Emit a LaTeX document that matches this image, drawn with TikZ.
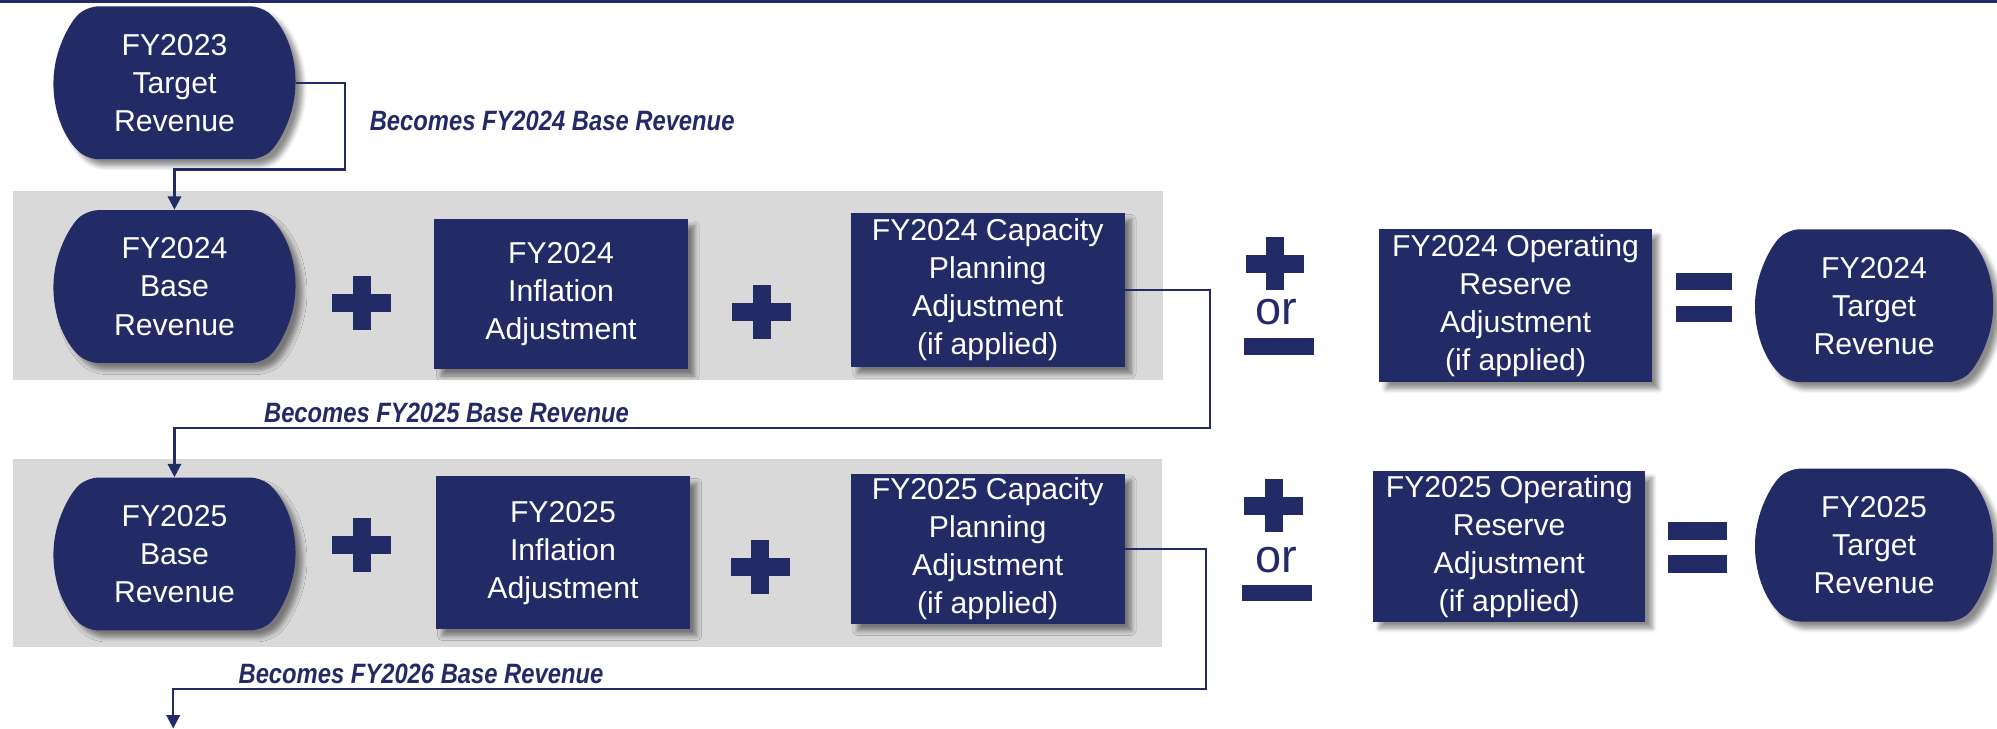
\documentclass[tikz,border=0pt]{standalone}
\usepackage{fontspec}
\setmainfont{Liberation Sans}
\newfontfamily\lblfont{Liberation Sans}[FakeStretch=0.85]
\usetikzlibrary{shapes.misc,shadows.blur,arrows.meta}
\definecolor{navy}{HTML}{232B66}
\definecolor{band}{HTML}{D9D9D9}
\newcommand\plusmark[2]{%
  \fill[navy] (#1-23,#2-7) rectangle (#1+23,#2+7);
  \fill[navy] (#1-7,#2-21) rectangle (#1+7,#2+21);}
\begin{document}
\begin{tikzpicture}[x=0.02cm,y=-0.02cm,
  base/.style={fill=navy, text=white, font=\fontsize{13.5}{17}\selectfont,
    align=center, inner sep=0pt,
    blur shadow={shadow xshift=3pt,shadow yshift=-3pt,shadow blur steps=6,shadow opacity=45}},
  term/.style={base, rounded rectangle, rounded rectangle arc length=95, rounded corners=5pt,
    minimum width=3.8cm, minimum height=2.4cm},
  box/.style={base, rectangle, minimum height=2.4cm},
  conn/.style={draw=navy, line width=1.1pt},
  arr/.style={conn, -{Triangle[width=6pt,length=6pt]}},
  lbl/.style={text=navy, font=\lblfont\fontsize{12.5}{14}\selectfont\bfseries\itshape, anchor=west, inner sep=0pt},
  ortext/.style={text=navy, font=\fontsize{21}{21}\selectfont, inner sep=0pt}]
\useasboundingbox (0,0) rectangle (1568,572);
\fill[navy] (0,0) rectangle (1568,2);
% bands
\fill[band] (10,150) rectangle (913,298);
\fill[band] (10,360) rectangle (912,508);
% nodes
\node[term] (t23) at (137,65) {FY2023\\Target\\Revenue};
\node[term] (b24) at (137,225) {FY2024\\Base\\Revenue};
\node[box, minimum width=3.98cm, minimum height=2.36cm] (i24) at (440.5,231) {FY2024\\Inflation\\Adjustment};
\node[box, minimum width=4.3cm, minimum height=2.42cm] (c24) at (775.5,227.5) {FY2024 Capacity\\Planning\\Adjustment\\(if applied)};
\node[box, minimum width=4.28cm] (o24) at (1190,240) {FY2024 Operating\\Reserve\\Adjustment\\(if applied)};
\node[term, minimum width=3.74cm] (t24) at (1471.5,240) {FY2024\\Target\\Revenue};
\node[term] (b25) at (137,435) {FY2025\\Base\\Revenue};
\node[box, minimum width=4cm] (i25) at (442,434) {FY2025\\Inflation\\Adjustment};
\node[box, minimum width=4.3cm, minimum height=2.36cm] (c25) at (775.5,431) {FY2025 Capacity\\Planning\\Adjustment\\(if applied)};
\node[box, minimum width=4.28cm, minimum height=2.36cm] (o25) at (1185,429) {FY2025 Operating\\Reserve\\Adjustment\\(if applied)};
\node[term, minimum width=3.74cm] (t25) at (1471.5,428) {FY2025\\Target\\Revenue};
% operators
\plusmark{284}{238}
\plusmark{598}{245}
\plusmark{284}{428}
\plusmark{597}{445}
\plusmark{1001}{207}
\plusmark{1000}{397}
\node[ortext] (or1) at (1002,245) {or};
\node[ortext] (or2) at (1002,440) {or};
\fill[navy] (977,265) rectangle (1032,279);
\fill[navy] (975,459) rectangle (1030,472);
\fill[navy] (1316,214) rectangle (1360,228);
\fill[navy] (1316,240) rectangle (1360,253);
\fill[navy] (1310,410) rectangle (1356,424);
\fill[navy] (1310,436) rectangle (1356,450);
% connectors
\coordinate (k1) at (271,133);
\draw[arr] (t23.east) -| (k1) -| (b24.north);
\coordinate (k2) at (950,336);
\draw[arr] (c24.east) -| (k2) -| (b25.north);
\coordinate (k3) at (947,541);
\coordinate (e3) at (136,572);
\draw[arr] (c25.east) -| (k3) -| (e3);
% labels
\node[lbl] (l1) at (290,95) {Becomes FY2024 Base Revenue};
\node[lbl] (l2) at (207,324) {Becomes FY2025 Base Revenue};
\node[lbl] (l3) at (187,529) {Becomes FY2026 Base Revenue};
\end{tikzpicture}
\end{document}
